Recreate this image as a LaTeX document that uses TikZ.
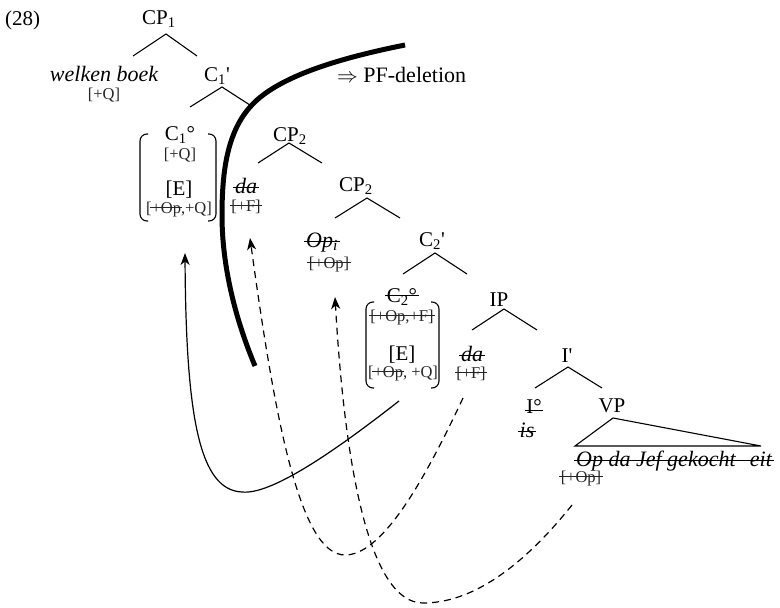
\documentclass[tikz,border=0pt]{standalone}
\usepackage{fontspec}
\setmainfont{Liberation Serif}
\usetikzlibrary{arrows.meta}

% struck-through text: optional height of the line, then the text
\newsavebox\stkbox
\newcommand{\stk}[2][.3em]{\sbox\stkbox{#2}\rlap{\usebox\stkbox}\kern-.08em\rule[#1]{\dimexpr\wd\stkbox+.16em\relax}{.75pt}\kern-.08em}

\begin{document}
\begin{tikzpicture}[x=1pt,y=-1pt,
  every node/.style={inner sep=0pt,anchor=base},
  lab/.style={font=\fontsize{21}{21}\selectfont},
  feat/.style={font=\fontsize{16.5}{16.5}\selectfont,text=black!85},
  word/.style={font=\fontsize{22}{22}\selectfont\itshape},
  branch/.style={line width=1.1pt},
  bracket/.style={line width=1.1pt,rounded corners=7pt},
  move/.style={line width=1.2pt,-{Stealth[length=12pt,width=9pt,inset=3.5pt]}},
  deleted/.style={move,dash pattern=on 7pt off 5pt},
  cut/.style={line width=5pt}]
\useasboundingbox (0,0) rectangle (780,608);

% labels
\node[lab,anchor=base west] (ex) at (5,25) {(28)};
\node[lab] (cp1) at (159,24) {CP\textsubscript{1}};
\node[word] (wh) at (104,81) {welken boek};
\node[feat] (whf) at (104,99) {[+Q]};
\node[lab] (c1bar) at (217,81) {C\textsubscript{1}\textquotesingle};
\node[lab,anchor=base west] (pf) at (337,82) {\fontsize{22}{22}\selectfont$\Rightarrow$ PF-deletion};

\node[lab] (c1) at (180,140) {C\textsubscript{1}\textdegree};
\node[feat] (c1f) at (180,159) {[+Q]};
\node[lab] (e1) at (179,195) {[E]};
\node[feat] (e1f) at (179,213) {[\stk{+Op},+Q]};
\node[word] (da1) at (246,193) {\stk[.22em]{da}};
\node[feat] (da1f) at (246,211) {\stk{[+F]}};

\node[lab] (cp2a) at (290,141) {CP\textsubscript{2}};
\node[lab] (cp2b) at (356,191) {CP\textsubscript{2}};
\node[word] (op) at (322,247) {\stk[.25em]{Op\textsubscript{i}}};
\node[feat] (opf) at (329,268) {\stk{[+Op]}};
\node[lab] (c2bar) at (432,246) {C\textsubscript{2}\textquotesingle};

\node[lab] (c2) at (402,302) {\stk{C\textsubscript{2}\textdegree}};
\node[feat] (c2f) at (402,321) {\stk{[+Op,+F]}};
\node[lab] (e2) at (402,360) {[E]};
\node[feat] (e2f) at (403,377) {[\stk{+Op}, +Q]};

\node[lab] (ip) at (499,306) {IP};
\node[word] (da2) at (472,361) {\stk[.22em]{da}};
\node[feat] (da2f) at (471,378) {\stk{[+F]}};
\node[lab] (ibar) at (567,362) {I\textquotesingle};
\node[lab] (i0) at (534,413) {\stk[.1em]{I\textdegree}};
\node[word] (is) at (527,437) {\stk[.22em]{is}};
\node[lab] (vp) at (612,412) {VP};
\node[word,anchor=base west] (vpw) at (576,466) {\stk[.25em]{Op da Jef gekocht\hspace{.4em} eit}};
\node[feat] (vpf) at (581,482) {\stk{[+Op]}};

% branching points
\coordinate (a1) at (166,34);  \coordinate (l1) at (133,56);  \coordinate (r1) at (197,56);
\coordinate (a2) at (222,87);  \coordinate (l2) at (190,107); \coordinate (r2) at (253,107);
\coordinate (a3) at (289,143); \coordinate (l3) at (258,163); \coordinate (r3) at (322,163);
\coordinate (a4) at (367,198); \coordinate (l4) at (335,218); \coordinate (r4) at (400,218);
\coordinate (a5) at (435,253); \coordinate (l5) at (403,274); \coordinate (r5) at (467,274);
\coordinate (a6) at (504,309); \coordinate (l6) at (472,330); \coordinate (r6) at (537,330);
\coordinate (a7) at (568,367); \coordinate (l7) at (535,388); \coordinate (r7) at (602,388);
\coordinate (a8) at (613,418); \coordinate (l8) at (575,446); \coordinate (r8) at (761,446);

\draw[branch] (l1) -- (a1) -- (r1);
\draw[branch] (l2) -- (a2) -- (r2);
\draw[branch] (l3) -- (a3) -- (r3);
\draw[branch] (l4) -- (a4) -- (r4);
\draw[branch] (l5) -- (a5) -- (r5);
\draw[branch] (l6) -- (a6) -- (r6);
\draw[branch] (l7) -- (a7) -- (r7);
\draw[branch] (l8) -- (a8) -- (r8) -- cycle;

% brackets round the heads
\draw[bracket] (148,134) -| (140,221) -- (148,221);
\draw[bracket] (208,134) -| (216,221) -- (208,221);
\draw[bracket] (374,302) -| (366,388) -- (374,388);
\draw[bracket] (431,302) -| (439,388) -- (431,388);

% the PF-deletion boundary
\coordinate (cutA) at (405,45);
\coordinate (cutB) at (255,366);
\draw[cut] (cutA) .. controls (340,58) and (285,75) .. (257,100)
  .. controls (229,125) and (222,165) .. (222,215)
  .. controls (222,275) and (240,330) .. (cutB);

% movement arrows
\coordinate (mS) at (399,401); \coordinate (mT) at (185,253);
\coordinate (fS) at (463,398); \coordinate (fT) at (250,238);
\coordinate (oS) at (572,505); \coordinate (oT) at (335,297);
\draw[move] (mS) .. controls (330,455) and (270,495) .. (242,492)
  .. controls (200,490) and (186,420) .. (mT);
\draw[deleted] (fS) .. controls (420,490) and (380,555) .. (345,555)
  .. controls (300,555) and (275,420) .. (fT);
\draw[deleted] (oS) .. controls (520,570) and (470,603) .. (423,603)
  .. controls (370,603) and (345,470) .. (oT);
\end{tikzpicture}
\end{document}
